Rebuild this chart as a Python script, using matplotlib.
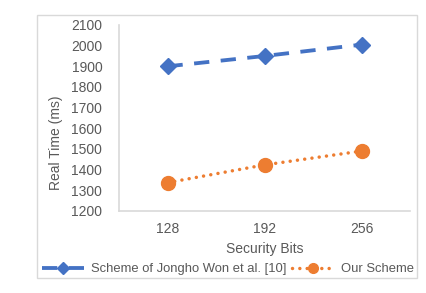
import matplotlib
matplotlib.use("Agg")
import matplotlib.pyplot as plt
from matplotlib.patches import Rectangle

# data
bits = ["128", "192", "256"]
won_times = [1900, 1950, 2005]
our_times = [1337, 1423, 1490]
y_ticks = [1200, 1300, 1400, 1500, 1600, 1700, 1800, 1900, 2000, 2100]

txt = "#595959"
plt.rcParams['font.family'] = ['Liberation Sans', 'DejaVu Sans']

fig = plt.figure(figsize=(4.27, 2.93), dpi=100)
# outer chart frame
fig.patches.append(Rectangle((37/427, 1 - 278/293), 380/427, 263/293,
                             transform=fig.transFigure, fill=False,
                             edgecolor="#d9d9d9", linewidth=1.0))

ax = fig.add_axes([0.2787, 0.2799, 0.6815, 0.6348])
x = list(range(len(bits)))
ax.plot(x, won_times, color="#4472C4", linestyle=(0, (4, 3)), linewidth=2.75,
        marker="D", markersize=8.5, label="Scheme of Jongho Won et al. [10]")
ax.plot(x, our_times, color="#ED7D31", linestyle=(0, (0.01, 2.1)), linewidth=2.5,
        dash_capstyle="round", marker="o", markersize=10, label="Our Scheme")

ax.set_xlim(-0.5, 2.5)
ax.set_ylim(1200, 2100)
ax.set_xticks(x)
ax.set_xticklabels(bits)
ax.set_yticks(y_ticks)
ax.tick_params(length=0, labelsize=10, labelcolor=txt, pad=12)
ax.tick_params(axis='x', pad=8)
for s in ["top", "right"]:
    ax.spines[s].set_visible(False)
for s in ["left", "bottom"]:
    ax.spines[s].set_color("#d9d9d9")
    ax.spines[s].set_linewidth(1.2)

ax.set_xlabel("Security Bits", fontsize=10, color=txt, labelpad=4)
ax.set_ylabel("Real Time (ms)", fontsize=10, color=txt)
ax.yaxis.set_label_coords(-0.194, 0.368)

fig.legend(loc="center", bbox_to_anchor=(228/427, 1 - 269/293), ncol=2,
           frameon=False, fontsize=9.4, labelcolor=txt, handlelength=3.2,
           columnspacing=0.45, handletextpad=0.55, markerscale=0.7)

fig.savefig("out.png", dpi=100)
